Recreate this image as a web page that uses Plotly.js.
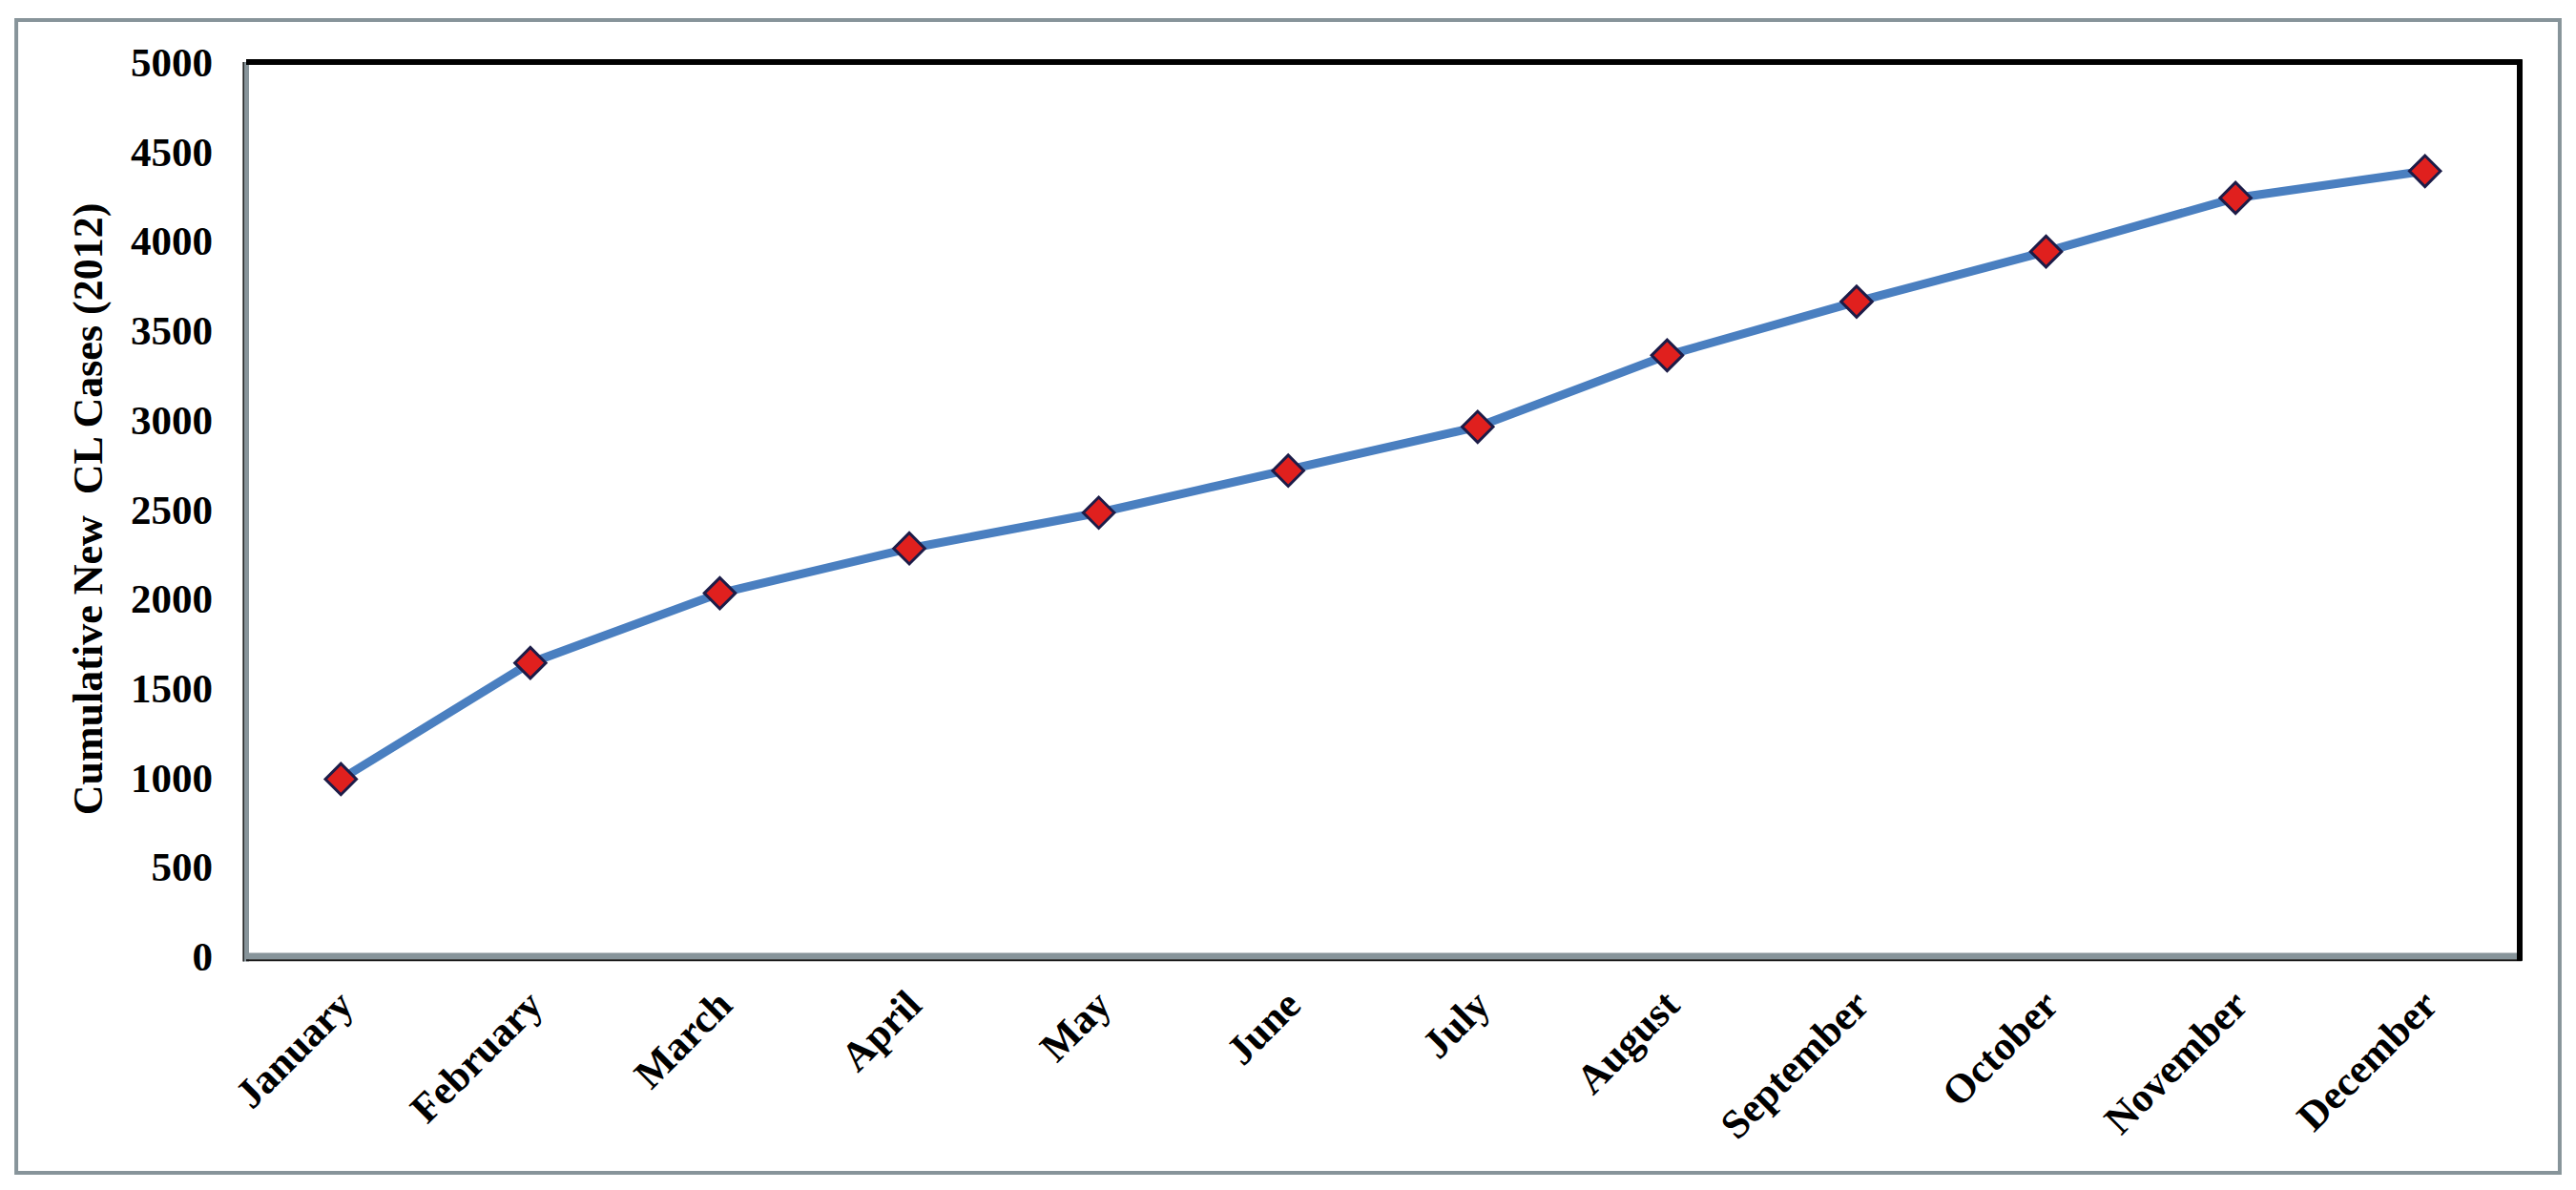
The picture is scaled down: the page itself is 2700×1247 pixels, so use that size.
<!DOCTYPE html>
<html>
<head>
<meta charset="utf-8">
<script src="https://cdn.plot.ly/plotly-3.0.1.min.js"></script>
<style>
  html, body { margin: 0; padding: 0; background: #ffffff; }
  #chart { width: 2700px; height: 1247px; }
</style>
</head>
<body>
<div id="chart"></div>
<script>
// ---- Data ----
const months = ["January", "February", "March", "April", "May", "June",
                "July", "August", "September", "October", "November", "December"];
const cumulativeCases = [990, 1640, 2030, 2280, 2480, 2715, 2960, 3360, 3660, 3940, 4240, 4390];
const yTickValues = [0, 500, 1000, 1500, 2000, 2500, 3000, 3500, 4000, 4500, 5000];
const yAxisTitle = "Cumulative New  CL Cases (2012)";

const serif = "'Liberation Serif', 'Times New Roman', serif";

const trace = {
  type: "scatter",
  mode: "lines+markers",
  x: months,
  y: cumulativeCases,
  line: { color: "#4a7fc0", width: 9 },
  marker: {
    symbol: "diamond",
    size: 25,
    color: "#e0201e",
    line: { color: "#1c1c48", width: 3 }
  },
  cliponaxis: false,
  hoverinfo: "x+y"
};

const frameGray = "#87949a";

const layout = {
  width: 2700,
  height: 1247,
  paper_bgcolor: "#ffffff",
  plot_bgcolor: "#ffffff",
  showlegend: false,
  margin: { l: 258, r: 59, t: 65, b: 245, pad: 0 },
  font: { family: serif, color: "#000000", size: 42 },
  xaxis: {
    type: "category",
    range: [-0.5, 11.5],
    tickangle: -45,
    showgrid: false,
    zeroline: false,
    showline: false,
    ticks: "",
    ticklabelstandoff: 16,
    tickfont: { family: serif, size: 43, color: "#000000", weight: "bold" },
    automargin: false,
    fixedrange: true
  },
  yaxis: {
    range: [0, 5000],
    tickvals: yTickValues,
    ticktext: yTickValues.map(String),
    showgrid: false,
    zeroline: false,
    showline: false,
    ticks: "",
    ticklabelstandoff: 34,
    tickfont: { family: serif, size: 43, color: "#000000", weight: "bold" },
    title: {
      text: yAxisTitle,
      font: { family: serif, size: 44, color: "#000000", weight: "bold" },
      standoff: 15
    },
    automargin: false,
    fixedrange: true
  },
  shapes: [
    // outer chart frame
    { type: "rect", xref: "paper", yref: "paper",
      x0: -0.1011, x1: 1.0176, y0: -0.2423, y1: 1.047,
      line: { color: frameGray, width: 4 }, fillcolor: "rgba(0,0,0,0)", layer: "below" },
    // plot area frame: left & bottom gray (shadowed), top & right black
    { type: "line", xref: "paper", yref: "paper", x0: 0, x1: 0, y0: -0.006, y1: 1,
      line: { color: frameGray, width: 6 } },
    { type: "line", xref: "paper", yref: "paper", x0: -0.0012, x1: -0.0012, y0: -0.006, y1: 1,
      line: { color: "#1a1a1a", width: 1.5 } },
    { type: "line", xref: "paper", yref: "paper", x0: 0, x1: 1, y0: 0, y1: 0,
      line: { color: frameGray, width: 7 } },
    { type: "line", xref: "paper", yref: "paper", x0: 0, x1: 1.001, y0: -0.0045, y1: -0.0045,
      line: { color: "#1a1a1a", width: 2 } },
    { type: "line", xref: "paper", yref: "paper", x0: 0, x1: 1.001, y0: 1, y1: 1,
      line: { color: "#000000", width: 6 } },
    { type: "line", xref: "paper", yref: "paper", x0: 1, x1: 1, y0: -0.005, y1: 1.003,
      line: { color: "#000000", width: 6 } }
  ]
};

Plotly.newPlot("chart", [trace], layout, { displayModeBar: false, staticPlot: true });
</script>
</body>
</html>
